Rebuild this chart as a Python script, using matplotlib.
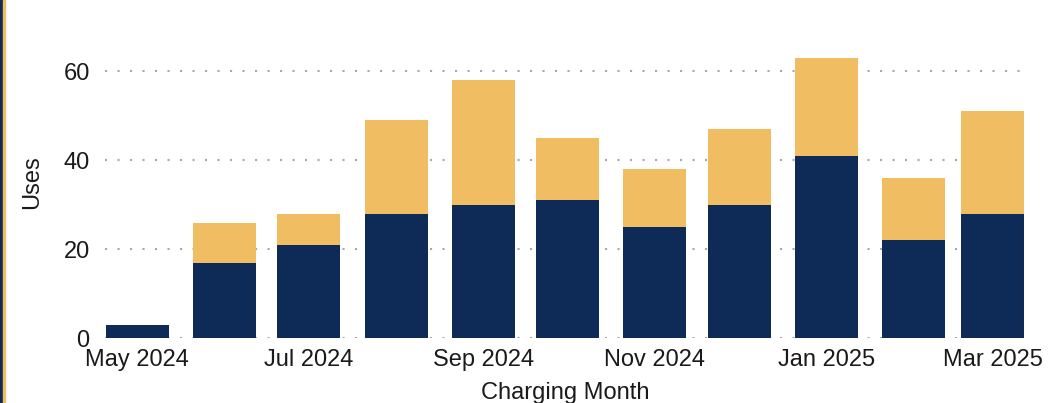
import datetime as dt
import matplotlib
matplotlib.use('Agg')
import matplotlib.pyplot as plt
import matplotlib.dates as mdates
from matplotlib.patches import Rectangle

# monthly charging uses (stacked)
months = ['2024-05', '2024-06', '2024-07', '2024-08', '2024-09', '2024-10',
          '2024-11', '2024-12', '2025-01', '2025-02', '2025-03']
navy_vals = [3, 17, 21, 28, 30, 31, 25, 30, 41, 22, 28]
gold_vals = [0, 9, 7, 21, 28, 14, 13, 17, 22, 14, 23]

NAVY = '#0e2a57'
GOLD = '#f0bd62'
TXT = '#1a1a1a'

plt.rcParams['font.family'] = ['Liberation Sans', 'DejaVu Sans']

dates = [dt.datetime.strptime(m, '%Y-%m') for m in months]

fig = plt.figure(figsize=(10.5, 4.03), dpi=100)
ax = fig.add_axes([0.1, 0.161, 0.876, 0.73])

w = 22.4  # days
ax.bar(dates, navy_vals, width=w, color=NAVY, zorder=3)
ax.bar(dates, gold_vals, width=w, bottom=navy_vals, color=GOLD, zorder=3)

ax.set_xlim(dates[0] - dt.timedelta(days=11.5), dates[-1] + dt.timedelta(days=11.5))
ax.set_ylim(0, 66.2)
ax.set_yticks([0, 20, 40, 60])

ax.xaxis.set_major_locator(mdates.MonthLocator(bymonth=[1, 3, 5, 7, 9, 11]))
ax.xaxis.set_major_formatter(mdates.DateFormatter('%b %Y'))

ax.grid(axis='y', color='#a8a8a8', linestyle=(0, (1, 5)), linewidth=1.5, zorder=0)
for s in ax.spines.values():
    s.set_visible(False)
ax.tick_params(length=0, labelsize=17, colors=TXT)
ax.tick_params(axis='x', pad=8)
ax.tick_params(axis='y', pad=11)
ax.set_xlabel('Charging Month', fontsize=17, color=TXT)
ax.set_ylabel('Uses', fontsize=17, color=TXT)
ax.xaxis.set_label_coords(0.5, -0.15)
ax.yaxis.set_label_coords(-0.067, 0.53)

# left border stripes
fig.patches.append(Rectangle((0, 0), 2.5 / 1050, 1, transform=fig.transFigure,
                             color=NAVY, zorder=5))
fig.patches.append(Rectangle((3 / 1050, 0), 1.5 / 1050, 1, transform=fig.transFigure,
                             color=GOLD, zorder=5))

fig.savefig('out.png', dpi=100)
